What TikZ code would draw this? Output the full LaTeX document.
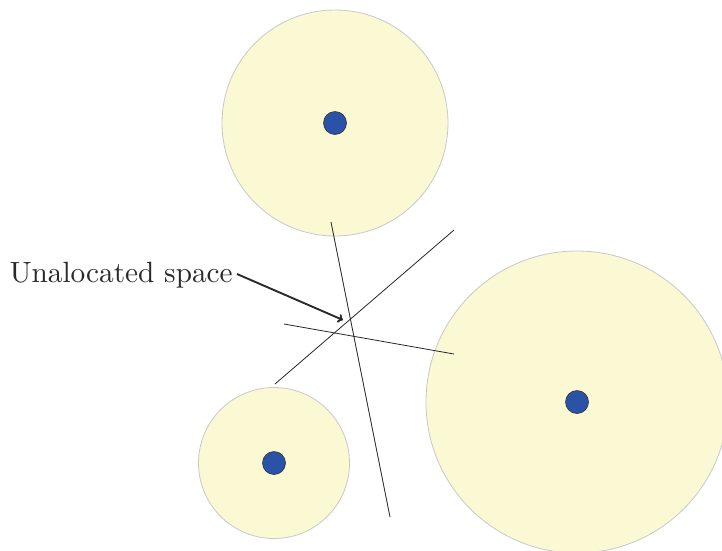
\documentclass[tikz,border=0pt]{standalone}
\usetikzlibrary{arrows.meta}
\definecolor{areafill}{HTML}{FAF9D4}
\definecolor{areaedge}{HTML}{C8C8C8}
\definecolor{dotfill}{HTML}{2A52A8}
\definecolor{txtcol}{HTML}{2A2A2A}
\tikzset{
  area/.style={circle, draw=areaedge, fill=areafill, line width=0.8pt, inner sep=0pt},
  centre/.style={circle, draw=black!80, fill=dotfill, line width=0.6pt, inner sep=0pt, minimum size=23pt},
  boundary/.style={draw=black!85, line width=0.8pt},
  pointer/.style={draw=txtcol, line width=1.9pt, -{To[length=5pt,width=9pt]}},
  lbl/.style={text=txtcol, inner sep=0pt, scale=2.93, transform shape}
}
\begin{document}
\begin{tikzpicture}[x=1pt,y=-1pt]
\useasboundingbox (0,0) rectangle (722,550);
\clip (0,0) rectangle (722,550);
\node[area, minimum size=226pt] (top) at (335,123) {};
\node[area, minimum size=151pt] (small) at (274,463) {};
\node[area, minimum size=302pt] (big) at (577,402) {};
\node[centre] (ctop) at (335,123) {};
\node[centre] (csmall) at (274,463) {};
\node[centre] (cbig) at (577,402) {};
\coordinate (a1) at (331,222);
\coordinate (a2) at (390,517);
\coordinate (b1) at (454,230);
\coordinate (b2) at (275,384);
\coordinate (c1) at (284,324);
\coordinate (c2) at (454,354);
\draw[boundary] (a1) -- (a2);
\draw[boundary] (b1) -- (b2);
\draw[boundary] (c1) -- (c2);
\node[lbl, anchor=base west] (label) at (9,282) {Unalocated space};
\coordinate (target) at (343,320);
\draw[pointer] (237,274) -- (target);
\end{tikzpicture}
\end{document}
